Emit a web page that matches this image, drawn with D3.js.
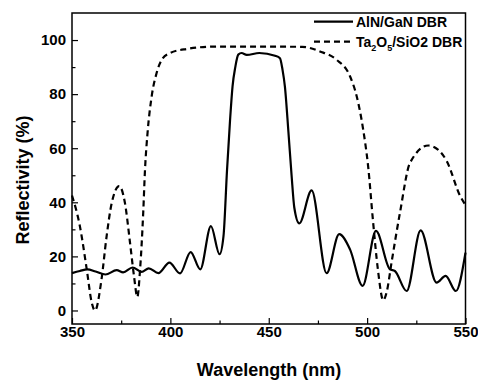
<!DOCTYPE html>
<html>
<head>
<meta charset="utf-8">
<script src="https://cdn.jsdelivr.net/npm/d3@7"></script>
<style>
  body { margin: 0; background: #fff; }
  svg { display: block; font-family: "Liberation Sans", Arial, sans-serif; }
</style>
</head>
<body>
<svg id="chart" width="478" height="380"></svg>
<script>
// AlN/GaN DBR (solid)
const alnGanNm = [350, 354, 357.8, 362, 367, 372.7, 376, 380.8, 385.4, 389, 393.9, 399.5, 404.9, 410.3, 415.2,
  420.6, 425, 427, 428.8, 430.3, 431.6, 433, 434.5, 436.2, 438.8, 445.2, 453.2, 455.7, 457, 458.2, 460, 461.6, 463,
  465.5, 471.8, 479.4, 485.8, 491.3, 497.7, 504.5, 511.6, 514.1, 520.1, 527.2, 535.3, 539.9, 545.1, 550];
const alnGanR = [13.8, 14.6, 15.2, 14.4, 13.3, 14.9, 14.1, 15.9, 14.3, 15.6, 13.8, 17.7, 13.7, 21.6, 15.2,
  31.2, 20.8, 27.5, 52, 70, 82.9, 90, 94.6, 95.2, 94.5, 95.2, 94.2, 93.3, 89, 82.9, 66, 50, 38,
  32.2, 44.4, 13.8, 28.2, 22.6, 9.1, 29.4, 15.2, 14.6, 7.2, 29.6, 10.3, 12.8, 7.2, 21.4];

// Ta2O5/SiO2 DBR (dashed)
const taSiNm = [350, 354, 357.5, 360, 361.7, 365, 367.6, 370.2, 374, 376.9, 379.5, 381.5, 383.2, 384.6, 386.2,
  387.1, 388.4, 390.5, 393, 395.6, 399.8, 408.3, 423.5, 467, 476, 484.5, 491.3, 494.7, 498, 500.5, 503, 505.5,
  508.2, 510, 512.4, 516.7, 521.8, 531.1, 536, 540.5, 547.3, 550];
const taSiR = [42.5, 31.2, 15.2, 3, 0, 11.5, 27.5, 39.8, 46, 39.8, 25, 12.8, 5, 15.2, 36.2,
  52, 65.7, 79.2, 87.8, 92.7, 95.2, 96.7, 97.6, 97.5, 95.8, 92.7, 86.6, 79.2, 66.9, 53.4, 33, 15,
  3.8, 7, 17.7, 36.2, 54.6, 61, 59.5, 55.2, 42.3, 39];

const xTicks = [350, 400, 450, 500, 550];
const xMinor = [375, 425, 475, 525];
const yTicks = [0, 20, 40, 60, 80, 100];
const yMinor = [10, 30, 50, 70, 90];

const svg = d3.select("#chart");
const frame = { left: 72, right: 465.5, top: 13, bottom: 324 };

const x = d3.scaleLinear().domain([350, 550]).range([frame.left, frame.right]);
const y = d3.scaleLinear().domain([-5, 110]).range([frame.bottom, frame.top]);

// axes, ticks pointing inward
svg.append("g").attr("transform", `translate(0,${frame.bottom})`)
  .call(d3.axisBottom(x).tickValues(xTicks).tickSizeInner(-6).tickSizeOuter(0).tickPadding(2).tickFormat(d3.format("d")));
svg.append("g").attr("transform", `translate(0,${frame.bottom})`)
  .call(d3.axisBottom(x).tickValues(xMinor).tickSizeInner(-3.5).tickSizeOuter(0).tickFormat(""));
svg.append("g").attr("transform", `translate(${frame.left},0)`)
  .call(d3.axisLeft(y).tickValues(yTicks).tickSizeInner(-6).tickSizeOuter(0).tickPadding(6).tickFormat(d3.format("d")));
svg.append("g").attr("transform", `translate(${frame.left},0)`)
  .call(d3.axisLeft(y).tickValues(yMinor).tickSizeInner(-3.5).tickSizeOuter(0).tickFormat(""));

svg.selectAll(".domain").remove();
svg.selectAll(".tick line").attr("stroke", "#000").attr("stroke-width", 1.2);
svg.selectAll(".tick text")
  .attr("fill", "#000")
  .style("font-size", "15px")
  .style("font-weight", "700");

// frame
svg.append("rect")
  .attr("x", frame.left).attr("y", frame.top)
  .attr("width", frame.right - frame.left).attr("height", frame.bottom - frame.top)
  .attr("fill", "none").attr("stroke", "#000").attr("stroke-width", 1.5);

const line = d3.line()
  .x((d) => x(d[0]))
  .y((d) => y(d[1]))
  .curve(d3.curveMonotoneX);

const plot = svg.append("g");

plot.append("path")
  .datum(d3.zip(taSiNm, taSiR))
  .attr("d", line)
  .attr("fill", "none")
  .attr("stroke", "#000")
  .attr("stroke-width", 2.2)
  .attr("stroke-dasharray", "6,4");

plot.append("path")
  .datum(d3.zip(alnGanNm, alnGanR))
  .attr("d", line)
  .attr("fill", "none")
  .attr("stroke", "#000")
  .attr("stroke-width", 2.2);

// legend
const legend = svg.append("g");
legend.append("line")
  .attr("x1", 314).attr("x2", 353).attr("y1", 21.7).attr("y2", 21.7)
  .attr("stroke", "#000").attr("stroke-width", 2.2);
legend.append("text")
  .attr("x", 356).attr("y", 26.7)
  .style("font-size", "14px").style("font-weight", "700")
  .text("AlN/GaN DBR");

legend.append("line")
  .attr("x1", 314).attr("x2", 353).attr("y1", 41.7).attr("y2", 41.7)
  .attr("stroke", "#000").attr("stroke-width", 2.2)
  .attr("stroke-dasharray", "6,4");
const t2 = legend.append("text")
  .attr("x", 356).attr("y", 46.7)
  .style("font-size", "14px").style("font-weight", "700");
t2.append("tspan").text("Ta");
t2.append("tspan").attr("dy", 4).style("font-size", "9px").text("2");
t2.append("tspan").attr("dy", -4).text("O");
t2.append("tspan").attr("dy", 4).style("font-size", "9px").text("5");
t2.append("tspan").attr("dy", -4).text("/SiO2 DBR");

// axis titles
svg.append("text")
  .attr("x", 269).attr("y", 376)
  .attr("text-anchor", "middle")
  .style("font-size", "18px").style("font-weight", "700")
  .text("Wavelength (nm)");

svg.append("text")
  .attr("transform", "translate(28.5,180) rotate(-90)")
  .attr("text-anchor", "middle")
  .style("font-size", "18px").style("font-weight", "700")
  .text("Reflectivity (%)");
</script>
</body>
</html>
